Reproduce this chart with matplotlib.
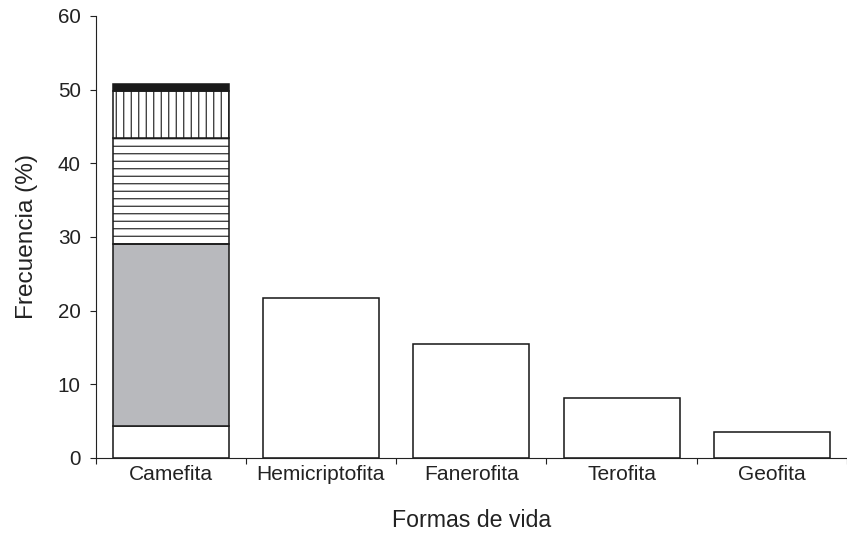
import matplotlib.pyplot as plt
import numpy as np

# life forms and their frequency (%)
categories = ['Camefita', 'Hemicriptofita', 'Fanerofita', 'Terofita', 'Geofita']
totals = [50.8, 21.7, 15.5, 8.1, 3.5]

# Camefita is split into stacked sub-groups (bottom to top)
camefita_parts = [4.4, 24.6, 14.4, 6.4, 1.0]
part_colors = ['white', '#b8b9bd', 'white', 'white', '#1a1a1a']
part_hatches = [None, None, '--', '||', None]

plt.rcParams['font.family'] = ['Liberation Sans', 'DejaVu Sans']
plt.rcParams['hatch.linewidth'] = 0.9
plt.rcParams['hatch.color'] = '#1a1a1a'

# dpi 90 so the doubled hatch gives ~7.5 px line spacing like the original
DPI = 90
fig = plt.figure(figsize=(847 / DPI, 538 / DPI), dpi=DPI)
ax = fig.add_axes([0.1128, 0.1487, 0.8872, 0.8216])

x = np.arange(len(categories))
width = 0.772
edge = dict(edgecolor='#1a1a1a', linewidth=1.25)

# plain bars for the others
ax.bar(x[1:], totals[1:], width=width, color='white', **edge)

# stacked Camefita bar
bottom = 0
for val, col, hat in zip(camefita_parts, part_colors, part_hatches):
    ax.bar(x[0], val, width=width, bottom=bottom, color=col, hatch=hat, **edge)
    bottom += val

ax.set_xlim(-0.5, 4.415)
ax.set_ylim(0, 60)
ax.set_yticks(range(0, 61, 10))

ax.set_xticks(x)
ax.set_xticklabels(categories)
ax.set_xticks(np.arange(-0.5, 4.6, 1), minor=True)
ax.tick_params(axis='x', which='major', length=0, pad=6, labelsize=16.8, colors='#222222')
ax.tick_params(axis='x', which='minor', length=5, width=0.9, direction='out', color='#222222')
ax.tick_params(axis='y', length=5, width=0.9, labelsize=16.5, pad=7, colors='#222222')

for side in ['top', 'right']:
    ax.spines[side].set_visible(False)
for side in ['left', 'bottom']:
    ax.spines[side].set_linewidth(0.9)
    ax.spines[side].set_color('#222222')

ax.set_ylabel('Frecuencia (%)', fontsize=19.5, labelpad=16, color='#222222')
ax.set_xlabel('Formas de vida', fontsize=18.5, labelpad=20, color='#222222')

plt.savefig('out.png', dpi=DPI)
